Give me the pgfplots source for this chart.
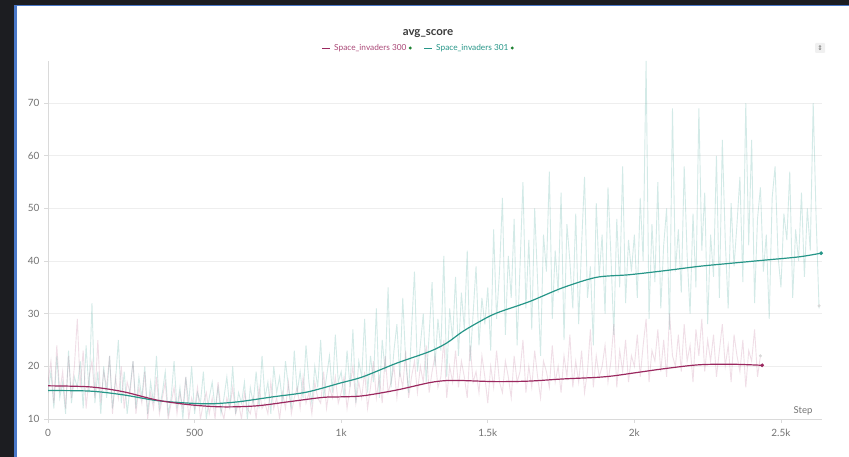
\documentclass[border=0pt]{standalone}
\usepackage{fontspec}
\setmainfont{Lato}
\newfontfamily\dejavu{DejaVu Sans}
\usepackage{pgfplots}
\pgfplotsset{compat=1.18}
\definecolor{darkbg}{RGB}{28,29,33}
\definecolor{frameblue}{RGB}{74,120,200}
\definecolor{magc}{RGB}{155,40,95}
\definecolor{tealc}{RGB}{38,150,136}
\definecolor{gridc}{RGB}{238,238,238}
\definecolor{axisc}{RGB}{218,218,218}
\definecolor{labelc}{RGB}{115,115,115}
\definecolor{titlec}{RGB}{60,60,60}
\definecolor{dotgreen}{RGB}{30,130,50}
\begin{document}
\begin{tikzpicture}
\useasboundingbox (0,0) rectangle (849pt,457pt);
\fill[darkbg] (0,0) rectangle (849pt,457pt);
\fill[frameblue] (14pt,0) rectangle (849pt,452pt);
\fill[white] (16.5pt,0) rectangle (849pt,450.5pt);
\begin{axis}[
  at={(48pt,38pt)}, anchor=south west,
  scale only axis, width=774pt, height=358pt,
  xmin=0, xmax=2640, ymin=10, ymax=78,
  axis x line*=bottom, axis y line*=left,
  axis line style={color=axisc, line width=0.8pt, -},
  xtick={0,500,1000,1500,2000,2500},
  xticklabels={0,500,1k,1.5k,2k,2.5k},
  ytick={10,20,30,40,50,60,70},
  ymajorgrids, grid style={color=gridc, line width=0.6pt},
  tick align=outside, major tick length=4pt,
  tick style={color=axisc, line width=0.6pt},
  ticklabel style={font=\fontsize{10}{12}\selectfont, text=labelc},
  /pgf/number format/assume math mode=true,
  xticklabel style={yshift=-3pt},
  yticklabel style={xshift=-1pt},
  scaled x ticks=false,
  clip=true,
]
% raw green (Space_invaders 301)
\addplot[color=tealc, opacity=0.2, line width=0.9pt] table[row sep=\\, x expr=\coordindex*10, y index=0] {
15\\19\\12\\22\\14\\17\\11\\23\\13\\18\\
16\\21\\12\\24\\15\\32\\13\\19\\11\\20\\
14\\22\\12\\17\\25\\13\\19\\11\\16\\21\\
12\\18\\14\\20\\11\\17\\13\\22\\12\\15\\
19\\11\\14\\21\\12\\16\\10\\18\\13\\20\\
11\\15\\13\\19\\10\\14\\17\\12\\16\\11\\
14\\18\\12\\20\\11\\15\\13\\17\\10\\16\\
13\\19\\12\\22\\14\\17\\11\\20\\15\\18\\
13\\21\\16\\12\\23\\15\\19\\14\\24\\17\\
13\\20\\16\\25\\14\\18\\22\\15\\26\\17\\
19\\14\\23\\16\\27\\13\\21\\18\\29\\15\\
22\\17\\31\\14\\25\\19\\35\\16\\23\\28\\
18\\33\\21\\15\\27\\38\\19\\24\\30\\17\\
26\\36\\20\\29\\23\\41\\18\\31\\25\\37\\
22\\34\\27\\42\\21\\30\\39\\24\\33\\28\\
35\\23\\46\\29\\38\\52\\26\\41\\33\\48\\
24\\39\\55\\31\\44\\27\\50\\36\\22\\45\\
38\\57\\29\\42\\34\\53\\25\\47\\40\\31\\
49\\28\\43\\56\\33\\39\\24\\51\\37\\45\\
30\\54\\41\\26\\48\\35\\58\\32\\44\\38\\
45\\33\\52\\40\\78\\29\\47\\36\\55\\31\\
43\\50\\27\\69\\38\\46\\34\\58\\41\\30\\
49\\35\\69\\42\\53\\28\\45\\37\\60\\33\\
63\\44\\31\\51\\39\\47\\56\\36\\70\\43\\
63\\32\\48\\54\\38\\45\\29\\52\\58\\41\\
35\\49\\44\\57\\33\\46\\40\\53\\37\\50\\
42\\70\\48\\31\\
};
% raw magenta (Space_invaders 300)
\addplot[color=magc, opacity=0.15, line width=0.9pt] table[row sep=\\, x expr=\coordindex*10, y index=0] {
17\\21\\13\\24\\15\\19\\12\\22\\14\\20\\
29\\16\\23\\12\\18\\21\\14\\25\\13\\19\\
16\\22\\11\\18\\14\\20\\12\\17\\15\\21\\
11\\16\\13\\19\\10\\15\\12\\18\\11\\14\\
17\\10\\13\\16\\11\\15\\12\\18\\10\\14\\
12\\16\\10\\13\\15\\11\\14\\10\\17\\12\\
10\\14\\12\\16\\11\\13\\10\\15\\12\\11\\
14\\10\\16\\12\\13\\11\\17\\12\\14\\10\\
15\\12\\17\\11\\14\\16\\12\\18\\13\\15\\
11\\17\\14\\13\\19\\12\\16\\14\\18\\13\\
15\\18\\12\\16\\20\\13\\17\\14\\19\\12\\
16\\21\\14\\18\\13\\22\\15\\17\\20\\14\\
19\\16\\23\\14\\18\\21\\15\\20\\17\\24\\
15\\19\\22\\16\\18\\25\\14\\20\\17\\23\\
16\\21\\18\\14\\24\\17\\19\\15\\22\\18\\
13\\20\\16\\23\\17\\15\\21\\18\\14\\22\\
17\\19\\25\\15\\20\\16\\23\\18\\14\\21\\
19\\16\\24\\17\\20\\15\\22\\18\\26\\16\\
21\\17\\23\\15\\19\\27\\16\\22\\18\\20\\
24\\17\\21\\28\\16\\23\\19\\25\\17\\22\\
20\\26\\18\\24\\29\\17\\23\\21\\27\\19\\
25\\18\\30\\22\\20\\26\\19\\28\\21\\24\\
17\\27\\22\\29\\19\\25\\21\\26\\18\\23\\
28\\20\\24\\17\\26\\22\\19\\25\\16\\23\\
21\\27\\18\\22\\
};
\addplot[only marks, mark=*, mark size=1.3pt, color=black!15] coordinates {(2630,31.5) (2430,22)};
% smoothed green
\addplot[color=tealc, line width=1.2pt, smooth] coordinates {
(0,15.4)(143,15.3)(255,14.6)(371,13.5)(484,13.0)(562,12.9)(654,13.3)(766,14.2)(882,15.1)(995,16.8)(1073,18.0)(1189,20.6)(1301,22.8)(1359,24.4)(1414,26.6)(1472,28.5)(1529,30.1)(1642,32.3)(1754,34.9)(1870,36.9)(1982,37.4)(2108,38.2)(2221,39.0)(2333,39.6)(2449,40.2)(2562,40.8)(2637,41.5)
};
% smoothed magenta
\addplot[color=magc, line width=1.2pt, smooth] coordinates {
(0,16.3)(143,16.1)(255,15.2)(371,13.6)(484,12.7)(596,12.3)(712,12.5)(824,13.3)(937,14.1)(995,14.2)(1073,14.4)(1189,15.5)(1301,16.9)(1359,17.3)(1414,17.3)(1529,17.1)(1642,17.2)(1754,17.6)(1870,17.9)(1930,18.2)(1993,18.7)(2108,19.6)(2221,20.3)(2333,20.4)(2436,20.2)
};
\addplot[only marks, mark=*, mark size=1.7pt, color=tealc] coordinates {(2637,41.5)};
\addplot[only marks, mark=*, mark size=1.7pt, color=magc] coordinates {(2436,20.2)};
\end{axis}
% title
\node[font=\fontsize{11.5}{13}\selectfont\bfseries, text=titlec] at (428pt,423pt) {avg\_score};
% legend
\draw[magc, line width=1pt] (322pt,408.5pt) -- (330pt,408.5pt);
\node[anchor=west, inner sep=0pt, font=\fontsize{8.3}{9}\selectfont, text=magc!85] (l1) at (334pt,409pt) {Space\_invaders 300};
\fill[dotgreen] ([xshift=3.5pt]l1.east) circle (1.7pt);
\draw[tealc, line width=1pt] (424pt,408.5pt) -- (432pt,408.5pt);
\node[anchor=west, inner sep=0pt, font=\fontsize{8.3}{9}\selectfont, text=tealc] (l2) at (436pt,409pt) {Space\_invaders 301};
\fill[dotgreen] ([xshift=3.5pt]l2.east) circle (1.7pt);
% sort icon
\fill[black!6, rounded corners=1pt] (815pt,404pt) rectangle (825pt,414pt);
\node[font=\dejavu\fontsize{6.5}{7}\selectfont, text=black!60, inner sep=0pt] at (820pt,409pt) {⇕};
% step label
\node[font=\fontsize{9.5}{11}\selectfont, text=labelc] at (803pt,46pt) {Step};
\end{tikzpicture}
\end{document}
